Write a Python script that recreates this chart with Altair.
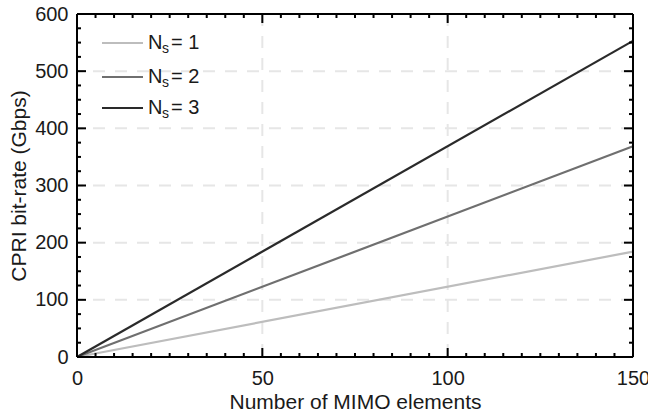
import altair as alt
import pandas as pd

# CPRI bit-rate versus number of MIMO elements for 1, 2 and 3 spatial streams
mimo_elements = [0, 150]
rate_ns1 = [0, 184.3]
rate_ns2 = [0, 368.6]
rate_ns3 = [0, 553.0]
stream_labels = ["1", "2", "3"]
line_colors = ["#bdbdbd", "#6f6f6f", "#2a2a2a"]

x_ticks = [0, 50, 100, 150]
y_ticks = [0, 100, 200, 300, 400, 500, 600]
x_grid = [50, 100]
y_grid = [100, 200, 300, 400, 500]
x_minor = [v for v in range(5, 150, 5) if v % 50 != 0]
y_minor = [v for v in range(25, 600, 25) if v % 100 != 0]

W, H = 556, 343
FONT = "Liberation Sans"
INK = "#1a1a1a"

rows = []
for lab, vals in zip(stream_labels, [rate_ns1, rate_ns2, rate_ns3]):
    for xv, yv in zip(mimo_elements, vals):
        rows.append({"elements": xv, "rate": yv, "ns": lab})
df = pd.DataFrame(rows)

xs = alt.Scale(domain=[0, 150], nice=False, zero=False)
ys = alt.Scale(domain=[0, 600], nice=False, zero=False)

x_axis = alt.Axis(values=x_ticks, ticks=False, domain=False, grid=False,
                  labelFontSize=20, labelPadding=11, labelFont=FONT,
                  labelColor=INK, title="Number of MIMO elements",
                  titleFont=FONT, titleFontSize=21, titleFontWeight="normal",
                  titleColor=INK, titlePadding=3, labelFlush=False)
y_axis = alt.Axis(values=y_ticks, ticks=False, domain=False, grid=False,
                  labelFontSize=20, labelPadding=9, labelFont=FONT,
                  labelColor=INK, title="CPRI bit-rate (Gbps)",
                  titleFont=FONT, titleFontSize=21, titleFontWeight="normal",
                  titleColor=INK, titlePadding=5, labelFlush=False)


def X(field):
    return alt.X(field, scale=xs, axis=x_axis)


def Y(field):
    return alt.Y(field, scale=ys, axis=y_axis)


gx = alt.Chart(pd.DataFrame({"v": x_grid})).mark_rule(
    color="#e6e6e6", strokeWidth=2, strokeDash=[12, 10]
).encode(x=X("v:Q"))
gy = alt.Chart(pd.DataFrame({"v": y_grid})).mark_rule(
    color="#e6e6e6", strokeWidth=2, strokeDash=[12, 10]
).encode(y=Y("v:Q"))

lines = alt.Chart(df).mark_line(strokeWidth=2.2).encode(
    x=X("elements:Q"),
    y=Y("rate:Q"),
    color=alt.Color("ns:N", scale=alt.Scale(domain=stream_labels, range=line_colors), legend=None),
    detail="ns:N",
)


def xtick_layer(vals, length):
    d = pd.DataFrame({"v": vals})
    bottom = alt.Chart(d).mark_rule(color="black", strokeWidth=2).encode(
        x=X("v:Q"), y=alt.value(H), y2=alt.value(H - length))
    top = alt.Chart(d).mark_rule(color="black", strokeWidth=2).encode(
        x=X("v:Q"), y=alt.value(0), y2=alt.value(length))
    return [bottom, top]


def ytick_layer(vals, length):
    d = pd.DataFrame({"v": vals})
    left = alt.Chart(d).mark_rule(color="black", strokeWidth=2).encode(
        y=Y("v:Q"), x=alt.value(0), x2=alt.value(length))
    right = alt.Chart(d).mark_rule(color="black", strokeWidth=2).encode(
        y=Y("v:Q"), x=alt.value(W), x2=alt.value(W - length))
    return [left, right]


ticks = (xtick_layer(x_minor, 4) + xtick_layer(x_grid, 9)
         + ytick_layer(y_minor, 4) + ytick_layer(y_grid, 9))

# frame around the plot area
frame_pts = pd.DataFrame({"a": [0]})
frame = [
    alt.Chart(frame_pts).mark_rule(color="black", strokeWidth=2).encode(
        x=alt.value(0), x2=alt.value(W), y=alt.value(0)),
    alt.Chart(frame_pts).mark_rule(color="black", strokeWidth=2).encode(
        x=alt.value(0), x2=alt.value(W), y=alt.value(H)),
    alt.Chart(frame_pts).mark_rule(color="black", strokeWidth=2).encode(
        y=alt.value(0), y2=alt.value(H), x=alt.value(0)),
    alt.Chart(frame_pts).mark_rule(color="black", strokeWidth=2).encode(
        y=alt.value(0), y2=alt.value(H), x=alt.value(W)),
]

# legend: sample line, "N" with subscript "s", then "= k"
legend = []
row_y = [29, 63, 94]
for lab, col, ry in zip(stream_labels, line_colors, row_y):
    d = pd.DataFrame({"t": [lab]})
    legend.append(alt.Chart(d).mark_rule(color=col, strokeWidth=2.2).encode(
        x=alt.value(25), x2=alt.value(66), y=alt.value(ry)))
    legend.append(alt.Chart(d).mark_text(
        align="left", baseline="middle", font=FONT, fontSize=20, color=INK
    ).encode(x=alt.value(71), y=alt.value(ry), text=alt.value("N")))
    legend.append(alt.Chart(d).mark_text(
        align="left", baseline="middle", font=FONT, fontSize=14, color=INK
    ).encode(x=alt.value(85), y=alt.value(ry + 6), text=alt.value("s")))
    legend.append(alt.Chart(d).mark_text(
        align="left", baseline="middle", font=FONT, fontSize=20, color=INK
    ).encode(x=alt.value(94), y=alt.value(ry), text="t:N").transform_calculate(
        t="'= ' + datum.t"))

chart = alt.layer(gx, gy, lines, *ticks, *frame, *legend).properties(
    width=W, height=H,
    autosize=alt.AutoSizeParams(type="none"),
    padding={"left": 77, "top": 14, "right": 15, "bottom": 58},
).configure_view(stroke=None).configure(background="white")

chart.save("out.html", embed_options={"renderer": "svg", "actions": False})
